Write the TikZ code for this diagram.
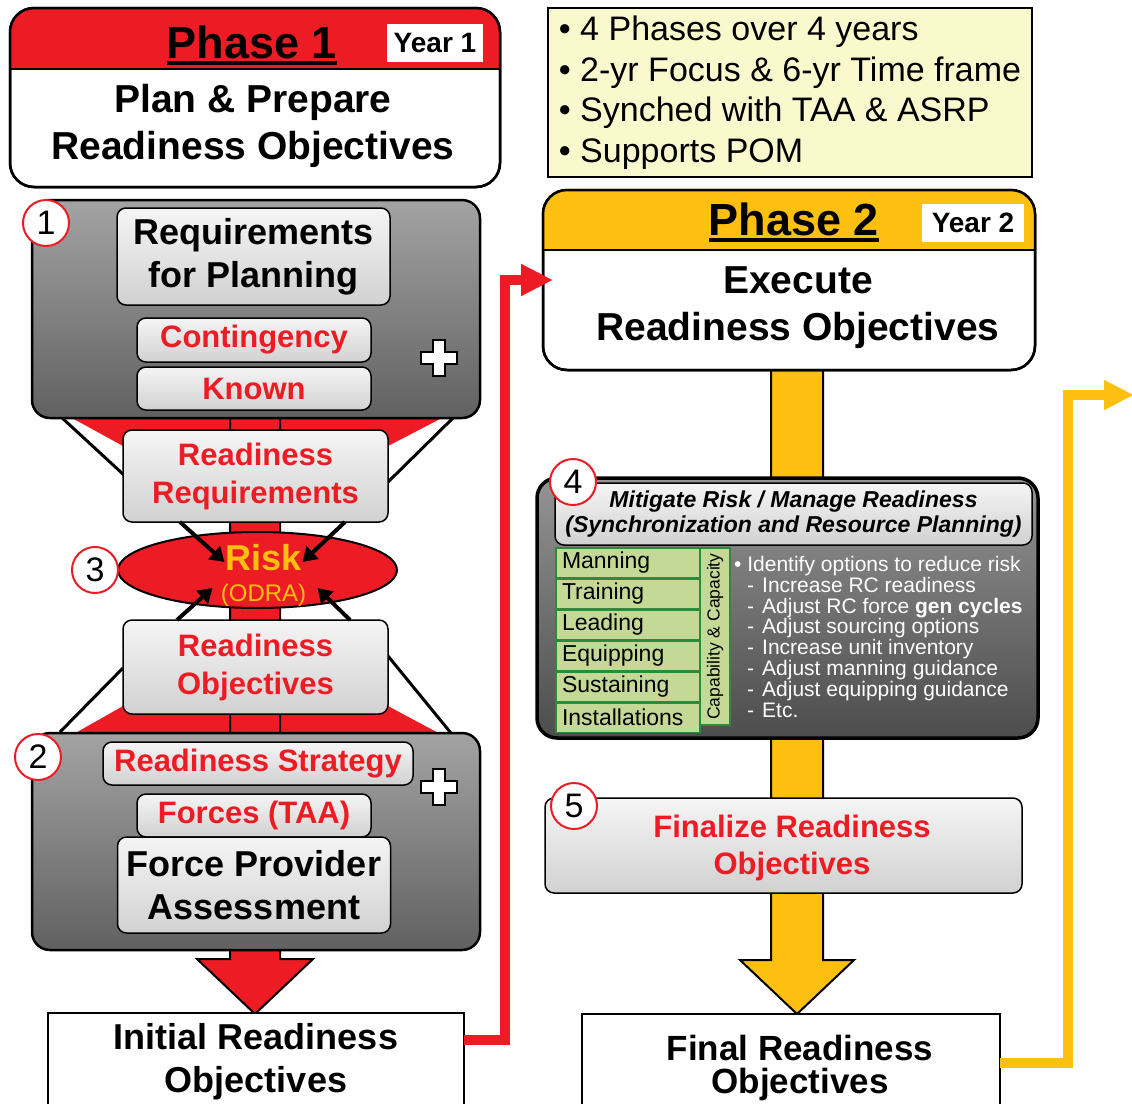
\documentclass[tikz,border=0pt]{standalone}
\usepackage{fontspec}
\setmainfont{Liberation Sans}
\usepackage{xcolor}
\usetikzlibrary{shapes,arrows.meta,positioning}

\definecolor{phasered}{HTML}{ED1C24}
\definecolor{phasegold}{HTML}{FDC010}
\definecolor{notefill}{HTML}{FAF9CE}
\definecolor{rowfill}{HTML}{C4D996}
\definecolor{rowedge}{HTML}{2B8A3B}

\begin{document}
\begin{tikzpicture}[x=1pt, y=-1pt]
  \tikzstyle{phase} = [draw, line width=2.5pt, fill=white, rounded corners=24pt, inner sep=0pt, outer sep=0pt]
  \tikzstyle{phasetitle} = [inner xsep=0pt, inner ysep=4.5pt, font=\fontsize{45}{45}\selectfont\bfseries]
  \tikzstyle{year} = [fill=white, inner sep=0pt, font=\fontsize{28}{28}\selectfont\bfseries]
  \tikzstyle{subtitle} = [align=center, inner sep=0pt, font=\fontsize{39}{47}\selectfont\bfseries]
  \tikzstyle{panel} = [draw, line width=2.5pt, rounded corners=18pt, top color=black!36, bottom color=black!62, inner sep=0pt, outer sep=0pt]
  \tikzstyle{block} = [draw, line width=1.5pt, rounded corners=9pt, top color=black!4, bottom color=black!18, inner sep=0pt, outer sep=0pt, align=center]
  \tikzstyle{redlabel} = [text=phasered, align=center, font=\fontsize{31}{38}\selectfont\bfseries]
  \tikzstyle{blacklabel} = [align=center, font=\fontsize{36}{43}\selectfont\bfseries]
  \tikzstyle{stepno} = [circle, draw=phasered, line width=2pt, fill=white, minimum size=46pt, inner sep=0pt, font=\fontsize{34}{34}\selectfont]
  \tikzstyle{plussign} = [draw, line width=1.5pt, fill=white]
  \tikzstyle{outcome} = [draw, line width=2pt, fill=white, inner sep=0pt, outer sep=0pt]
  \tikzstyle{listrow} = [draw=rowedge, line width=1.5pt, fill=rowfill, inner ysep=0pt, inner xsep=6pt, minimum height=29.5pt, text width=132pt, align=left, font=\fontsize{23}{23}\selectfont]
  \tikzstyle{listcol} = [draw=rowedge, line width=1.5pt, fill=rowfill, inner sep=0pt, rotate=90, font=\fontsize{17.5}{17.5}\selectfont]
  \tikzstyle{riskline} = [draw, line width=4pt, -{Triangle[length=14pt, width=17pt]}]
  \tikzstyle{redline} = [draw, phasered, line width=10pt, -{Triangle[length=32pt, width=30pt]}]
  \tikzstyle{goldline} = [draw, phasegold, line width=10pt, -{Triangle[length=30pt, width=28pt]}]

  \fill[white] (0,0) rectangle (1132,1103);
  \useasboundingbox (0,0) rectangle (1132,1103);

  % funnels and big arrows behind the boxes
  \fill[phasered] (72,418) -- (442,418) -- (388,446) -- (123,446) -- cycle;
  \fill[phasered] (123,706) -- (388,706) -- (442,735) -- (72,735) -- cycle;
  \draw[fill=phasered, line width=2pt] (230,410) -- (230,959) -- (197,959) -- (255,1014) -- (313,959) -- (280,959) -- (280,410) -- cycle;
  \draw[fill=phasegold, line width=2pt] (771,365) -- (771,960) -- (740,960) -- (797,1014) -- (854,960) -- (823,960) -- (823,365) -- cycle;
  \draw[line width=3pt] (60,416) -- (124,475);
  \draw[line width=3pt] (455,416) -- (388,482);
  \draw[line width=3pt] (123,668) -- (60,732);
  \draw[line width=3pt] (388,656) -- (455,738);

  % phase 1
  \node[phase, minimum width=490pt, minimum height=179pt] (phase1) at (255,97.5) {};
  \begin{scope}
    \clip[rounded corners=24pt] (10,8) rectangle (500,187);
    \fill[phasered] (10,8) rectangle (500,69);
  \end{scope}
  \draw[line width=2.5pt, rounded corners=24pt] (10,8) rectangle (500,187);
  \draw[line width=2.5pt] (10,69) -- (500,69);
  \node[phasetitle, anchor=base] (p1title) at (252,58) {Phase 1};
  \draw[line width=3.5pt] (p1title.south west) -- (p1title.south east);
  \node[year, minimum width=96pt, minimum height=38pt] (year1) at (435,43) {Year 1};
  \node[subtitle] (p1text) at (253,126) {Plan \& Prepare\\Readiness Objectives};

  % notes
  \node[draw, line width=2pt, fill=notefill, minimum width=484pt, minimum height=169pt, align=left, inner sep=0pt, font=\fontsize{34}{40.5}\selectfont] (notes) at (790,92.5) {• 4 Phases over 4 years\\• 2-yr Focus \& 6-yr Time frame\\• Synched with TAA \& ASRP\\• Supports POM};

  % phase 2
  \node[phase, minimum width=492pt, minimum height=180pt] (phase2) at (789,280) {};
  \begin{scope}
    \clip[rounded corners=24pt] (543,190) rectangle (1035,370);
    \fill[phasegold] (543,190) rectangle (1035,250);
  \end{scope}
  \draw[line width=2.5pt, rounded corners=24pt] (543,190) rectangle (1035,370);
  \draw[line width=2.5pt] (543,250) -- (1035,250);
  \node[phasetitle, anchor=base] (p2title) at (794,235) {Phase 2};
  \draw[line width=3.5pt] (p2title.south west) -- (p2title.south east);
  \node[year, minimum width=102pt, minimum height=38pt] (year2) at (973,222.5) {Year 2};
  \node[subtitle] (p2text) at (798,308) {Execute\\Readiness Objectives};

  % requirements
  \node[panel, minimum width=448pt, minimum height=218pt] (panel1) at (256,309) {};
  \node[block, blacklabel, minimum width=273pt, minimum height=97pt] (planning) at (253.5,256.5) {Requirements\\for Planning};
  \node[block, redlabel, minimum width=234pt, minimum height=44pt] (contingency) at (254,340) {Contingency};
  \node[block, redlabel, minimum width=234pt, minimum height=43pt, below=5pt of contingency] (known) {Known};
  \draw[plussign, shift={(439,358)}] (-6,-18) -- (6,-18) -- (6,-6) -- (18,-6) -- (18,6) -- (6,6) -- (6,18) -- (-6,18) -- (-6,6) -- (-18,6) -- (-18,-6) -- (-6,-6) -- cycle;
  \node[stepno] (no1) at (46,223) {1};

  % risk
  \node[block, redlabel, minimum width=265pt, minimum height=92pt] (requirements) at (255.5,476) {Readiness\\Requirements};
  \node[ellipse, draw, line width=2pt, fill=phasered, minimum width=279pt, minimum height=76pt, inner sep=0pt] (risk) at (257.5,570) {};
  \node[align=center, text=phasegold, inner sep=0pt, font=\fontsize{24}{31}\selectfont] (risklabel) at ([xshift=6pt, yshift=-5pt]risk.center) {{\fontsize{36}{31}\selectfont\bfseries Risk}\\(ODRA)};
  \node[block, redlabel, minimum width=265pt, minimum height=94pt] (objectives) at (255.5,667) {Readiness\\Objectives};
  \node[stepno] (no3) at (95,570) {3};
  \path[riskline] ([xshift=57pt]requirements.south west) -- ([xshift=-33pt, yshift=8pt]risk.center);
  \path[riskline] ([xshift=-43pt]requirements.south east) -- ([xshift=45pt, yshift=8pt]risk.center);
  \path[riskline] ([xshift=54pt]objectives.north west) -- ([xshift=-45pt, yshift=-18pt]risk.center);
  \path[riskline] ([xshift=-38pt]objectives.north east) -- ([xshift=60pt, yshift=-18pt]risk.center);

  % force provider
  \node[panel, minimum width=448pt, minimum height=217pt] (panel2) at (256,841.5) {};
  \node[block, redlabel, minimum width=310pt, minimum height=43pt] (strategy) at (258,763.5) {Readiness Strategy};
  \node[block, redlabel, minimum width=234pt, minimum height=43pt] (forces) at (254,815.5) {Forces (TAA)};
  \node[block, blacklabel, minimum width=273pt, minimum height=96pt, below=0pt of forces] (provider) {Force Provider\\Assessment};
  \draw[plussign, shift={(439,787)}] (-6,-18) -- (6,-18) -- (6,-6) -- (18,-6) -- (18,6) -- (6,6) -- (6,18) -- (-6,18) -- (-6,6) -- (-18,6) -- (-18,-6) -- (-6,-6) -- cycle;
  \node[stepno] (no2) at (38,757) {2};
  \node[outcome, blacklabel, minimum width=416pt, minimum height=98pt] (initial) at (256,1062) {Initial Readiness\\Objectives};

  % mitigate risk
  \node[panel, line width=3.5pt, rounded corners=20pt, top color=black!42, bottom color=black!70, minimum width=501pt, minimum height=260pt] (mitigation) at (787.5,608) {};
  \node[block, minimum width=477pt, minimum height=62pt, font=\fontsize{23}{25}\selectfont\bfseries\itshape] (mitigate) at (793.5,514) {Mitigate Risk / Manage Readiness\\(Synchronization and Resource Planning)};
  \node[stepno] (no4) at (573,482) {4};
  \node[listrow] (manning) at (628,562.75) {Manning};
  \node[listrow, below=0pt of manning] (training) {Training};
  \node[listrow, below=0pt of training] (leading) {Leading};
  \node[listrow, below=0pt of leading] (equipping) {Equipping};
  \node[listrow, below=0pt of equipping] (sustaining) {Sustaining};
  \node[listrow, below=0pt of sustaining] (installations) {Installations};
  \node[listcol, minimum width=177pt, minimum height=30pt] (capacity) at (715,636.5) {Capability \& Capacity};
  \node[anchor=north west, align=left, text=white, inner sep=0pt, font=\fontsize{21}{20.8}\selectfont] (options) at (734,556) {• Identify options to reduce risk\\
    \hspace*{13pt}-\hspace{8pt}Increase RC readiness\\
    \hspace*{13pt}-\hspace{8pt}Adjust RC force \textbf{gen cycles}\\
    \hspace*{13pt}-\hspace{8pt}Adjust sourcing options\\
    \hspace*{13pt}-\hspace{8pt}Increase unit inventory\\
    \hspace*{13pt}-\hspace{8pt}Adjust manning guidance\\
    \hspace*{13pt}-\hspace{8pt}Adjust equipping guidance\\
    \hspace*{13pt}-\hspace{8pt}Etc.};

  % finalize
  \node[block, minimum width=477pt, minimum height=95pt] (finalize) at (783.5,845.5) {};
  \node[redlabel, font=\fontsize{31}{37}\selectfont\bfseries] (finalizelabel) at ([xshift=8.5pt, yshift=-2.5pt]finalize.center) {Finalize Readiness\\Objectives};
  \node[stepno] (no5) at (574,806) {5};
  \node[outcome, minimum width=418pt, minimum height=97pt] (final) at (791,1062.5) {};
  \node[blacklabel, font=\fontsize{35}{33}\selectfont\bfseries] (finallabel) at ([xshift=9pt, yshift=-5.5pt]final.center) {Final Readiness\\Objectives};

  % hand-over arrows
  \coordinate (phase3) at (1134,395);
  \path[redline] ([yshift=22pt]initial.east) -- ++(41,0) |- ([xshift=10pt]phase2.west);
  \path[goldline] (final.east) -- ++(68,0) |- (phase3);
\end{tikzpicture}
\end{document}
